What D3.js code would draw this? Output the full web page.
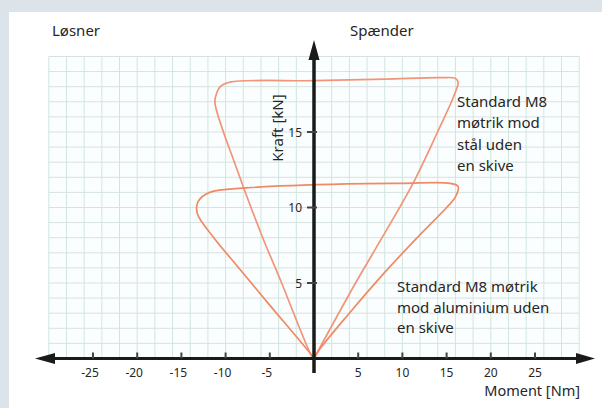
<!DOCTYPE html>
<html>
<head>
<meta charset="utf-8">
<script src="https://cdn.jsdelivr.net/npm/d3@7"></script>
<style>
  body { margin: 0; background: #dce3e9; }
  svg { display: block; }
  text { font-family: "Noto Sans", "DejaVu Sans", sans-serif; fill: #262626; }
</style>
</head>
<body>
<figure id="chart" style="margin:0"></figure>
<script>
// Moment [Nm] and Kraft [kN]
const steelMoment = [0, 4.7, 7.7, 11.2, 13.9, 15.9, 16.3, 16.0, 14.3, 8, 0, -9.5, -10.6, -11.1, -11.2, -8.7, -5.8, -3.8, -0.2, 0];
const steelForce  = [0, 5.0, 8.0, 11.6, 14.9, 17.5, 18.3, 18.55, 18.6, 18.5, 18.4, 18.3, 18.0, 17.4, 16.9, 12.5, 8.0, 5.2, 0.1, 0];
const aluMoment = [0, 0.5, 4.0, 8.0, 12.0, 15.0, 16.0, 16.3, 15.4, 10, 3.7, -7.6, -11.8, -13.1, -13.2, -11.4, -8.6, -5.2, -0.3, 0];
const aluForce  = [0, 0.5, 3.0, 5.7, 8.2, 10.0, 10.7, 11.4, 11.6, 11.6, 11.56, 11.3, 11.0, 10.4, 9.6, 8.05, 6.06, 3.67, 0.25, 0];

const xTicks = [-25, -20, -15, -10, -5, 5, 10, 15, 20, 25];
const yTicks = [5, 10, 15];
const steelLabel = ["Standard M8", "møtrik mod", "stål uden", "en skive"];
const aluLabel = ["Standard M8 møtrik", "mod aluminium uden", "en skive"];

const width = 602, height = 408;
const svg = d3.select("figure#chart").append("svg")
  .attr("width", width).attr("height", height);

// white panel
svg.append("rect").attr("x", 9).attr("y", 12).attr("width", width - 9).attr("height", height - 12)
  .attr("fill", "#ffffff");

const x = d3.scaleLinear().domain([-30, 30]).range([314 - 265.2, 314 + 265.2]);
const y = d3.scaleLinear().domain([0, 20]).range([358.5, 56.5]);

// graph paper
const grid = svg.append("g");
grid.append("rect").attr("x", x(-30)).attr("y", y(20))
  .attr("width", x(30) - x(-30)).attr("height", y(0) - y(20)).attr("fill", "#fbfefe");
grid.selectAll("line.v").data(d3.range(-30, 31, 2)).enter().append("line")
  .attr("x1", d => x(d)).attr("x2", d => x(d)).attr("y1", y(0)).attr("y2", y(20))
  .attr("stroke", "#cfe6df").attr("stroke-width", 1);
grid.selectAll("line.h").data(d3.range(0, 21, 1)).enter().append("line")
  .attr("x1", x(-30)).attr("x2", x(30)).attr("y1", d => y(d)).attr("y2", d => y(d))
  .attr("stroke", "#d6e2e2").attr("stroke-width", 1);

// curves
const line = d3.line().x(d => x(d[0])).y(d => y(d[1])).curve(d3.curveCatmullRom.alpha(0.5));
svg.append("path").datum(d3.zip(steelMoment, steelForce)).attr("d", line)
  .attr("fill", "none").attr("stroke", "#f29478").attr("stroke-width", 1.7);
svg.append("path").datum(d3.zip(aluMoment, aluForce)).attr("d", line)
  .attr("fill", "none").attr("stroke", "#f08a64").attr("stroke-width", 1.7);

// axes
const axisColor = "#1a1a1a";
svg.append("line").attr("x1", 50).attr("x2", 580).attr("y1", y(0)).attr("y2", y(0))
  .attr("stroke", axisColor).attr("stroke-width", 3);
svg.append("path").attr("d", `M35,${y(0)} L55,${y(0) - 5.5} L55,${y(0) + 5.5} Z`).attr("fill", axisColor);
svg.append("path").attr("d", `M595,${y(0)} L576,${y(0) - 5.5} L576,${y(0) + 5.5} Z`).attr("fill", axisColor);

svg.append("line").attr("x1", x(0)).attr("x2", x(0)).attr("y1", 373).attr("y2", 55)
  .attr("stroke", axisColor).attr("stroke-width", 3.5);
svg.append("path").attr("d", `M${x(0)},40 L${x(0) - 5.5},60 L${x(0) + 5.5},60 Z`).attr("fill", axisColor);

svg.selectAll("line.xt").data(xTicks).enter().append("line")
  .attr("x1", d => x(d)).attr("x2", d => x(d)).attr("y1", y(0) - 6).attr("y2", y(0))
  .attr("stroke", "#444").attr("stroke-width", 2);
svg.selectAll("text.xt").data(xTicks).enter().append("text")
  .attr("x", d => x(d) - (d < 0 ? 3 : 0)).attr("y", 377)
  .attr("text-anchor", "middle").style("font-size", "12px").text(d => d);

svg.selectAll("line.yt").data(yTicks).enter().append("line")
  .attr("x1", x(0) - 7).attr("x2", x(0) + 3).attr("y1", d => y(d)).attr("y2", d => y(d))
  .attr("stroke", "#444").attr("stroke-width", 2);
svg.selectAll("text.yt").data(yTicks).enter().append("text")
  .attr("x", 302).attr("y", d => y(d) + 4.5)
  .attr("text-anchor", "end").style("font-size", "12px").text(d => d);

// axis titles
svg.append("text").attr("transform", "translate(283,128) rotate(-90)")
  .attr("text-anchor", "middle").style("font-size", "15px").text("Kraft [kN]");
svg.append("text").attr("x", 580).attr("y", 396).attr("text-anchor", "end")
  .style("font-size", "14.5px").text("Moment [Nm]");
svg.append("text").attr("x", 52).attr("y", 36).style("font-size", "15px").text("Løsner");
svg.append("text").attr("x", 350).attr("y", 36).style("font-size", "15px").text("Spænder");

// annotations
svg.append("text").attr("x", 457).attr("y", 107).style("font-size", "15px")
  .selectAll("tspan").data(steelLabel).enter().append("tspan")
  .attr("x", 457).attr("dy", (d, i) => i ? 21.3 : 0).text(d => d);
svg.append("text").attr("x", 397).attr("y", 292).style("font-size", "15px")
  .selectAll("tspan").data(aluLabel).enter().append("tspan")
  .attr("x", 397).attr("dy", (d, i) => i ? 20.5 : 0).text(d => d);
</script>
</body>
</html>
